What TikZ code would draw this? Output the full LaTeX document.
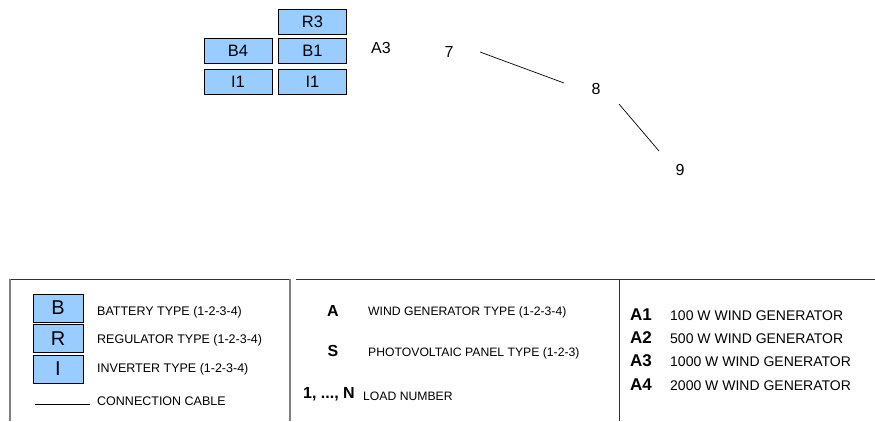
\documentclass[tikz,border=0pt]{standalone}
\usepackage{fontspec}
\setmainfont{Liberation Sans}
\usetikzlibrary{calc}
\definecolor{boxblue}{RGB}{153,204,255}
\tikzset{
  unit/.style={draw=black, fill=boxblue, line width=0.8pt, minimum width=68pt, minimum height=25pt, inner sep=0pt, font=\fontsize{16.5}{18}\selectfont},
  legbox/.style={draw=black, fill=boxblue, line width=0.8pt, minimum width=50pt, minimum height=28pt, inner sep=0pt, font=\fontsize{20}{22}\selectfont},
  num/.style={inner sep=0pt, font=\fontsize{16}{18}\selectfont},
  legtxt/.style={anchor=west, inner sep=0pt, font=\fontsize{12.5}{14}\selectfont},
  midtxt/.style={anchor=west, inner sep=0pt, font=\fontsize{12.2}{14}\selectfont},
  bigsym/.style={inner sep=0pt, font=\fontsize{16}{18}\selectfont\bfseries},
  rsym/.style={anchor=base west, inner sep=0pt, font=\fontsize{17}{19}\selectfont\bfseries},
  rtxt/.style={anchor=base west, inner sep=0pt, font=\fontsize{14}{16}\selectfont},
  cable/.style={line width=0.7pt, black},
  frame/.style={line width=0.9pt, black!80},
  gframe/.style={line width=1.4pt, black!50},
}
\begin{document}
\begin{tikzpicture}[x=1pt,y=-1pt]
\useasboundingbox (0,0) rectangle (875,421);
% top units
\node[unit] (r3) at (312.5,22) {R3};
\node[unit] (b4) at (238,50.5) {B4};
\node[unit] (b1) at (312.5,50.5) {B1};
\node[unit] (i1a) at (238,81.5) {I1};
\node[unit] (i1b) at (312.5,81.5) {I1};
\node[num] (a3) at (381,48) {A3};
\node[num] (n7) at (449,51.5) {7};
\node[num] (n8) at (596,89) {8};
\node[num] (n9) at (680,170) {9};
\draw[cable] ($(n7)+(31,0.5)$) -- ($(n8)+(-32,-6)$);
\draw[cable] ($(n8)+(23,15)$) -- ($(n9)+(-21,-19)$);
% legend frame
\coordinate (f0) at (10,279);
\coordinate (f1) at (289,279);
\coordinate (f2) at (296,279);
\coordinate (f3) at (875,279);
\coordinate (v0) at (10,421);
\coordinate (v1t) at (290,279);
\coordinate (v1) at (290,421);
\coordinate (v2t) at (619,279);
\coordinate (v2) at (619,421);
\draw[frame] (f0) -- (f1);
\draw[frame] (f2) -- (f3);
\draw[gframe] (f0) -- (v0);
\draw[gframe] (v1t) -- (v1);
\draw[frame] (v2t) -- (v2);
% legend left
\node[legbox] (lb) at (58,308) {B};
\node[legbox] (lr) at (58,338.5) {R};
\node[legbox] (li) at (58,369) {I};
\node[legtxt] (tb) at (97,312) {BATTERY TYPE (1-2-3-4)};
\node[legtxt] (tr) at (97,340) {REGULATOR TYPE (1-2-3-4)};
\node[legtxt] (ti) at (97,369) {INVERTER TYPE (1-2-3-4)};
\node[legtxt] (tc) at (97,401) {CONNECTION CABLE};
\coordinate (c0) at (35,404);
\coordinate (c1) at (90,404);
\draw[cable] (c0) -- (c1);
% legend middle
\node[bigsym] (sa) at (333,311) {A};
\node[midtxt] (ta) at (368,312) {WIND GENERATOR TYPE (1-2-3-4)};
\node[bigsym] (ss) at (333,351) {S};
\node[midtxt] (ts) at (368,353) {PHOTOVOLTAIC PANEL TYPE (1-2-3)};
\node[bigsym, anchor=west] (sn) at (303,394) {1, ..., N};
\node[midtxt] (tn) at (363,396) {LOAD NUMBER};
% legend right
\node[rsym] (ra1) at (630,320) {A1};
\node[rtxt] (ta1) at (670,320) {100 W WIND GENERATOR};
\node[rsym] (ra2) at (630,343) {A2};
\node[rtxt] (ta2) at (670,343) {500 W WIND GENERATOR};
\node[rsym] (ra3) at (630,366) {A3};
\node[rtxt] (ta3) at (670,366) {1000 W WIND GENERATOR};
\node[rsym] (ra4) at (630,390) {A4};
\node[rtxt] (ta4) at (670,390) {2000 W WIND GENERATOR};
\end{tikzpicture}
\end{document}
